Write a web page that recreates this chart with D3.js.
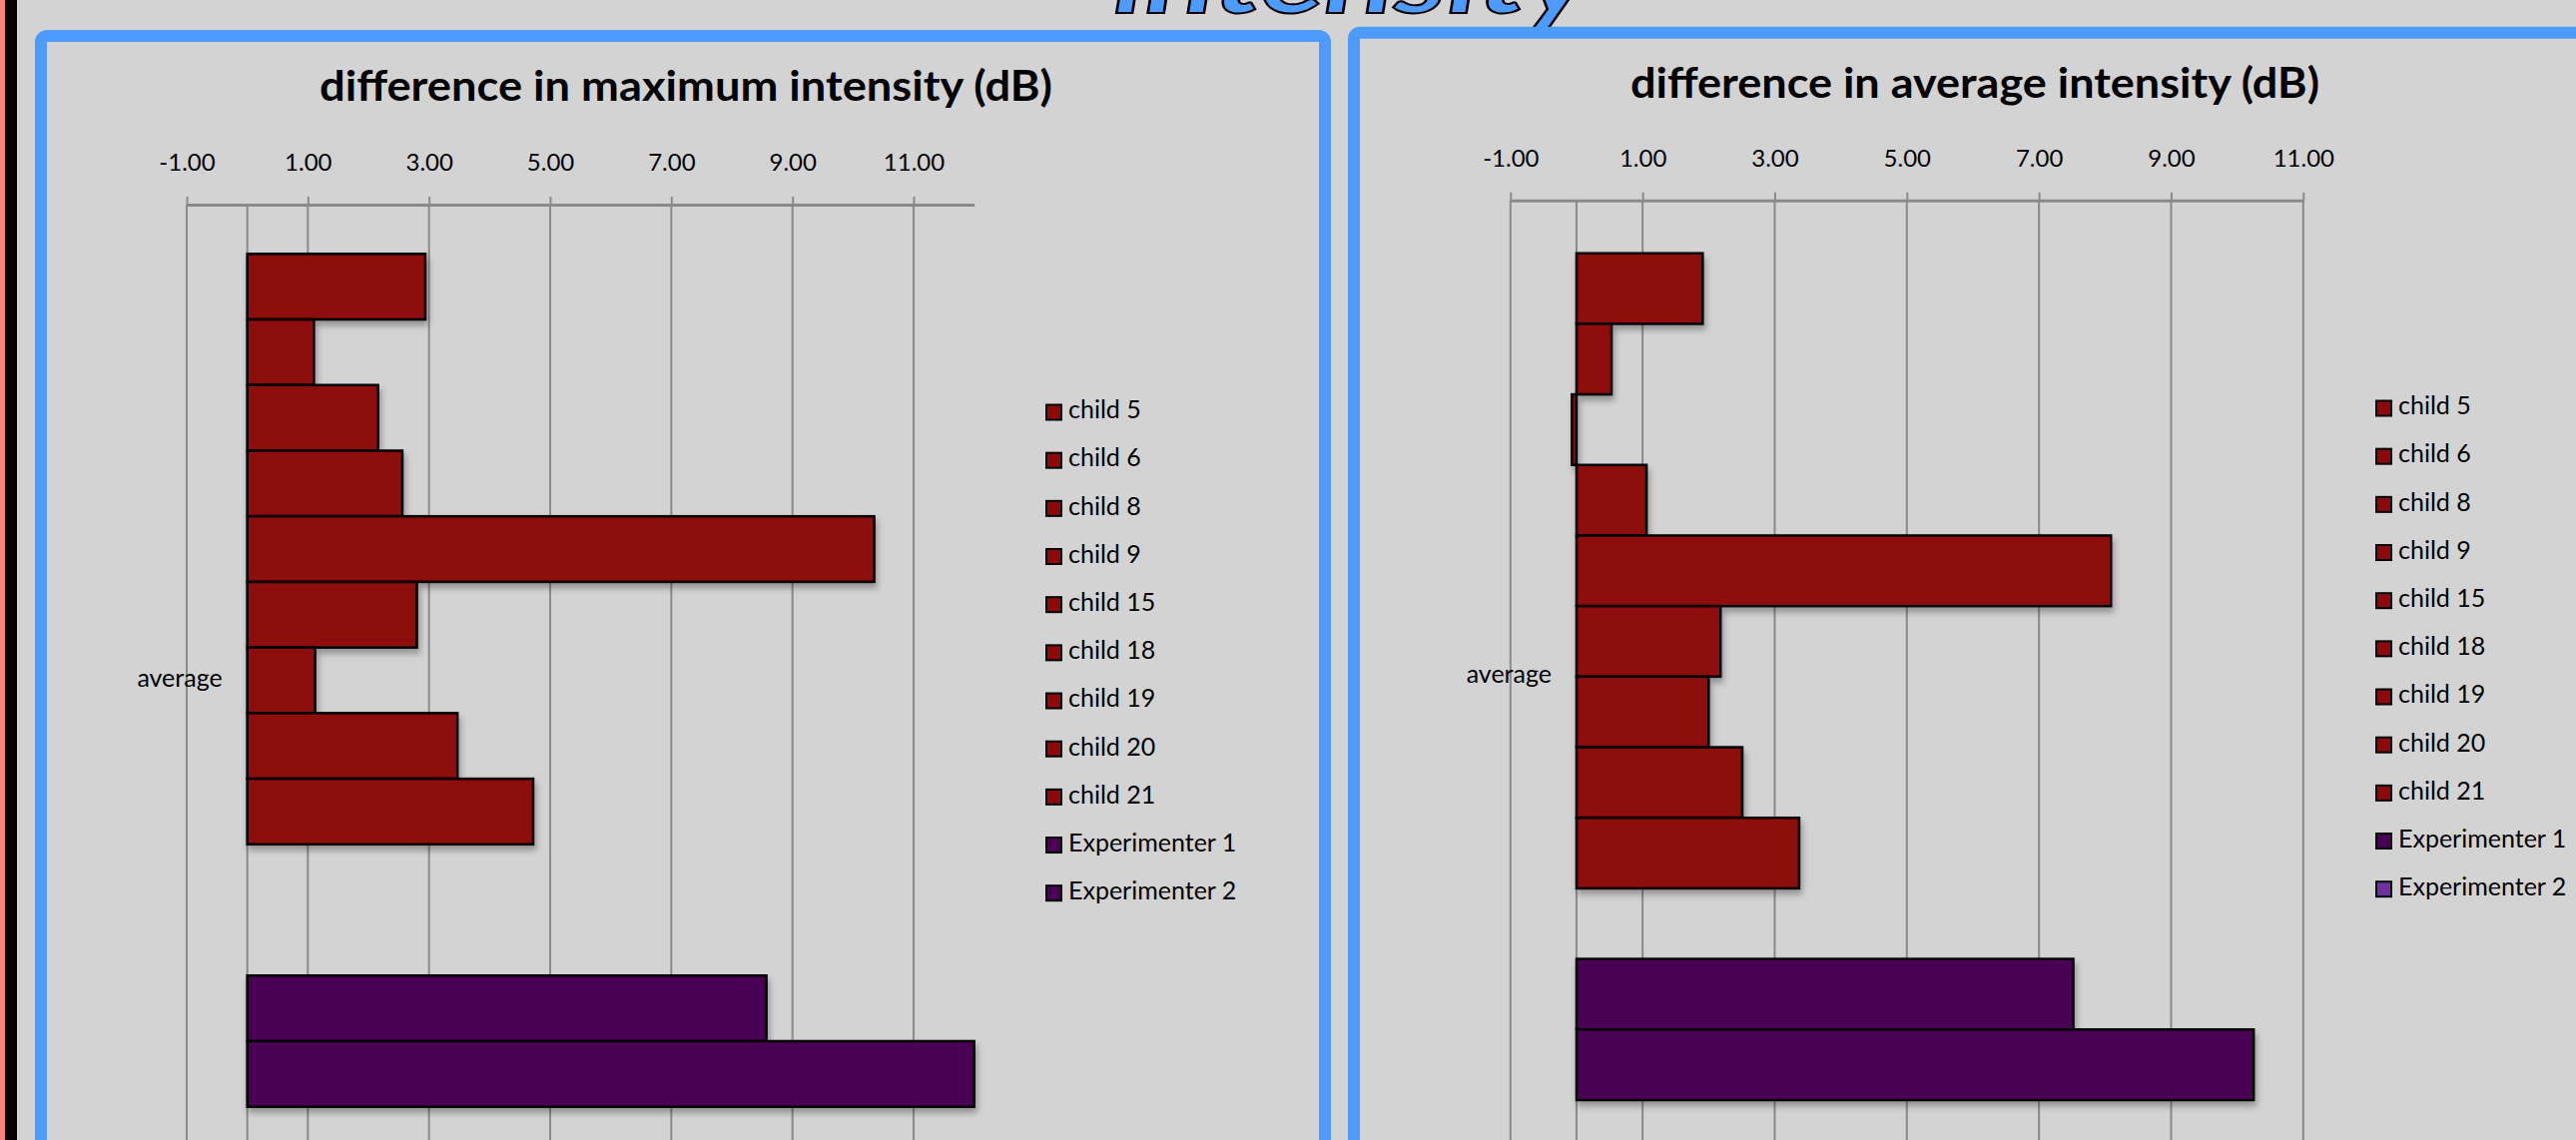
<!DOCTYPE html>
<html>
<head>
<meta charset="utf-8">
<script src="https://cdn.jsdelivr.net/npm/d3@7"></script>
<style>
  html, body { margin: 0; padding: 0; background: #d3d3d3; overflow: hidden; }
  text { font-family: Lato, "Open Sans", sans-serif; fill: #000; }
</style>
</head>
<body>
<svg id="chart" width="2580" height="1142"></svg>
<script>
// ---- data ----
const categories = ["average"];
const children = ["child 5", "child 6", "child 8", "child 9", "child 15",
                  "child 18", "child 19", "child 20", "child 21"];
const experimenters = ["Experimenter 1", "Experimenter 2"];

// difference in maximum intensity (dB)
const maxDiffChildren = [2.94, 1.10, 2.16, 2.56, 10.35, 2.80, 1.12, 3.47, 4.72];
const maxDiffExperimenters = [8.57, 12.0];

// difference in average intensity (dB)
const avgDiffChildren = [1.91, 0.53, -0.07, 1.06, 8.09, 2.18, 2.00, 2.51, 3.37];
const avgDiffExperimenters = [7.52, 10.25];

// empty series sitting between the children and the experimenters
const maxEmptySeries = ["(empty 1)", "(empty 2)"];
const avgEmptySeries = ["(empty 1)"];

const tickValues = [-1, 1, 3, 5, 7, 9, 11];
const maxAxisRange = [-1, 12];
const avgAxisRange = [-1, 11];

const titles = ["difference in maximum intensity (dB)", "difference in average intensity (dB)"];
const headline = "intensity";

// ---- styles ----
const childColor = "#8e080a";
const expColor = "#4a0055";
const blue = "#4d9bff";
const gridColor = "#8a8a8a";

// two decimals with a plain hyphen for negatives
const fmt2 = d => d3.format(".2f")(d).replace("\u2212", "-");

const svg = d3.select("#chart");

const defs = svg.append("defs");
const shadow = defs.append("filter").attr("id", "barShadow")
  .attr("x", "-5%").attr("y", "-20%").attr("width", "115%").attr("height", "160%");
shadow.append("feDropShadow").attr("dx", 2).attr("dy", 5).attr("stdDeviation", 3)
  .attr("flood-color", "#000").attr("flood-opacity", 0.3);

// page background and left edge strips
svg.append("rect").attr("width", 2580).attr("height", 1142).attr("fill", "#d3d3d3");
svg.append("rect").attr("x", 0).attr("y", 0).attr("width", 5).attr("height", 1142).attr("fill", "#ff8080");
svg.append("rect").attr("x", 5).attr("y", 0).attr("width", 12).attr("height", 1142).attr("fill", "#000");

// headline word, mostly above the top edge
svg.append("text")
  .attr("x", 1115).attr("y", 13)
  .attr("textLength", 478).attr("lengthAdjust", "spacingAndGlyphs")
  .style("font-size", "96px").style("font-weight", 700).style("font-style", "italic")
  .style("fill", blue).attr("stroke", "#000").attr("stroke-width", 2)
  .text(headline);

// panel frames
svg.append("rect").attr("x", 41).attr("y", 36).attr("width", 1286).attr("height", 1200)
  .attr("rx", 6).attr("fill", "none").attr("stroke", blue).attr("stroke-width", 12);
svg.append("rect").attr("x", 1356).attr("y", 32.7).attr("width", 1400).attr("height", 1200)
  .attr("rx", 6).attr("fill", "none").attr("stroke", blue).attr("stroke-width", 12);

function drawChart(o) {
  const g = svg.append("g");

  const x = d3.scaleLinear().domain(o.axisRange).range(o.xRange);
  const slots = [...children, ...o.emptySeries, ...experimenters];
  const y = d3.scaleBand().domain(slots)
    .range([o.plotTop, o.plotBottom]).paddingInner(0).paddingOuter(0.75);

  // title
  g.append("text")
    .attr("x", o.titleX).attr("y", o.titleY)
    .attr("textLength", o.titleWidth).attr("lengthAdjust", "spacingAndGlyphs")
    .style("font-size", "42px").style("font-weight", 700)
    .text(o.title);

  // vertical gridlines
  g.append("g").selectAll("line").data(tickValues).join("line")
    .attr("x1", d => x(d)).attr("x2", d => x(d))
    .attr("y1", o.plotTop).attr("y2", o.plotBottom)
    .attr("stroke", gridColor).attr("stroke-width", 2);

  // category axis at zero
  g.append("line")
    .attr("x1", x(0)).attr("x2", x(0))
    .attr("y1", o.plotTop).attr("y2", o.plotBottom)
    .attr("stroke", gridColor).attr("stroke-width", 2);

  // value axis along the top
  const axis = d3.axisTop(x).tickValues(tickValues)
    .tickFormat(fmt2).tickSize(8).tickSizeOuter(0).tickPadding(o.tickPadding);
  const ax = g.append("g").attr("transform", `translate(0,${o.plotTop})`).call(axis);
  ax.select(".domain").attr("stroke", gridColor).attr("stroke-width", 3);
  ax.selectAll(".tick line").attr("stroke", gridColor).attr("stroke-width", 2);
  ax.selectAll(".tick text").style("font-size", "24px").style("font-family", "Lato, sans-serif")
    .attr("fill", "#000");

  // bars
  const rows = [
    ...children.map((name, i) => ({ name, value: o.childValues[i], color: childColor })),
    ...experimenters.map((name, i) => ({ name, value: o.expValues[i], color: expColor }))
  ];
  g.append("g").attr("filter", "url(#barShadow)")
    .selectAll("rect").data(rows).join("rect")
    .attr("x", d => x(Math.min(0, d.value)))
    .attr("width", d => Math.abs(x(d.value) - x(0)))
    .attr("y", d => y(d.name))
    .attr("height", y.bandwidth())
    .attr("fill", d => d.color)
    .attr("stroke", "#000").attr("stroke-width", 2.5);

  // category label
  g.append("text")
    .attr("x", x(0) - 25).attr("y", (o.plotTop + o.plotBottom) / 2)
    .attr("text-anchor", "end").attr("dominant-baseline", "middle")
    .style("font-size", "25px")
    .text(categories[0]);

  // legend
  const legendItems = [
    ...children.map(name => ({ name, color: childColor })),
    ...experimenters.map((name, i) => ({ name, color: o.legendExpColors[i] }))
  ];
  const lg = g.append("g").selectAll("g").data(legendItems).join("g")
    .attr("transform", (d, i) => `translate(${o.legendX},${o.legendY + i * 48.17})`);
  lg.append("rect").attr("x", 0).attr("y", -7.5).attr("width", 15).attr("height", 15)
    .attr("fill", d => d.color).attr("stroke", "#000").attr("stroke-width", 2);
  lg.append("text").attr("x", 22).attr("y", 0).attr("dominant-baseline", "middle")
    .style("font-size", "25px").text(d => d.name);
}

drawChart({
  title: titles[0], titleX: 320, titleY: 101, titleWidth: 734,
  axisRange: maxAxisRange, xRange: [187, 975.7],
  plotTop: 205, plotBottom: 1158, tickPadding: 26,
  emptySeries: maxEmptySeries,
  childValues: maxDiffChildren, expValues: maxDiffExperimenters,
  legendX: 1048, legendY: 413, legendExpColors: [expColor, expColor]
});

drawChart({
  title: titles[1], titleX: 1633, titleY: 98, titleWidth: 690,
  axisRange: avgAxisRange, xRange: [1512.8, 2306.8],
  plotTop: 200.7, plotBottom: 1155, tickPadding: 26,
  emptySeries: avgEmptySeries,
  childValues: avgDiffChildren, expValues: avgDiffExperimenters,
  legendX: 2380, legendY: 409, legendExpColors: [expColor, "#7030a0"]
});
</script>
</body>
</html>
